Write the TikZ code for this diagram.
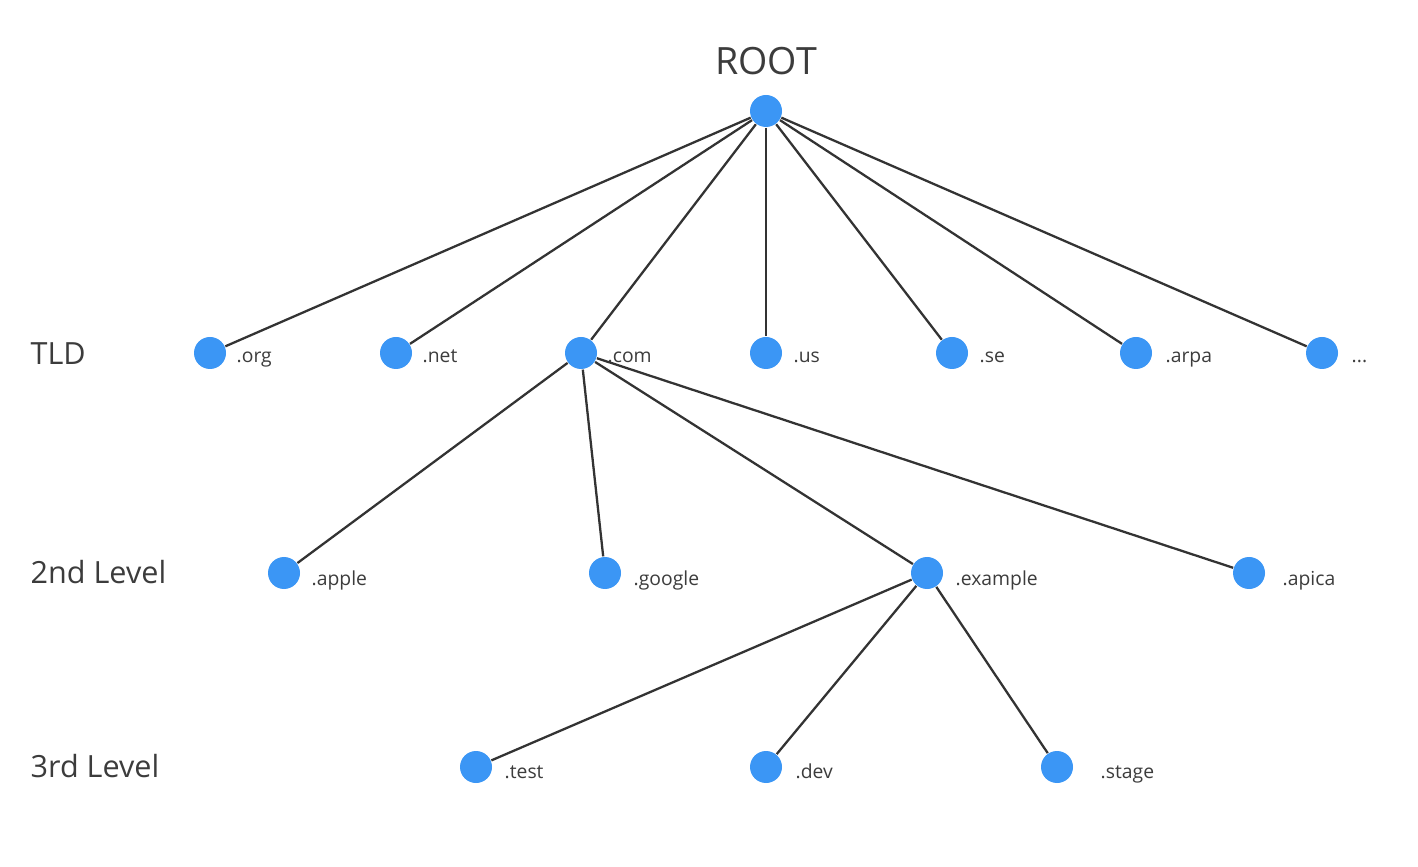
\documentclass[tikz,border=0pt]{standalone}
\usepackage{fontspec}
\setmainfont{Open Sans}
\usepackage{tikz}
\definecolor{dotblue}{RGB}{59,150,245}
\definecolor{edgegray}{RGB}{51,51,51}
\definecolor{txtgray}{RGB}{60,60,60}
\tikzset{
  dot/.style={circle,fill=dotblue,minimum size=0.32cm,inner sep=0pt},
  lvl/.style={anchor=base west,inner sep=0pt,text=txtgray,font=\fontsize{8.7}{10}\selectfont},
  lbl/.style={anchor=base west,inner sep=0pt,text=txtgray,font=\fontsize{5.5}{7}\selectfont},
  edge/.style={draw=edgegray,line width=0.65pt}
}
\begin{document}
\begin{tikzpicture}
\useasboundingbox (0,0) rectangle (14.18,8.66);
% root
\node[anchor=base,inner sep=0pt,text=txtgray,font=\fontsize{10.7}{12}\selectfont] (roottxt) at (7.66,7.91) {ROOT};
\node[dot] (root) at (7.66,7.55) {};
% level names
\node[lvl] (tldtxt) at (0.30,5.01) {TLD};
\node[lvl] (sndtxt) at (0.30,2.82) {2nd Level};
\node[lvl] (trdtxt) at (0.30,0.89) {3rd Level};
% TLD
\node[dot] (org) at (2.10,5.13) {};
\node[dot] (net) at (3.96,5.13) {};
\node[dot] (com) at (5.81,5.13) {};
\node[dot] (us) at (7.66,5.13) {};
\node[dot] (se) at (9.52,5.13) {};
\node[dot] (arpa) at (11.36,5.13) {};
\node[dot] (more) at (13.22,5.13) {};
\node[lbl] (orgtxt) at (2.36,5.03) {.org};
\node[lbl] (nettxt) at (4.22,5.03) {.net};
\node[lbl] (comtxt) at (6.07,5.03) {.com};
\node[lbl] (ustxt) at (7.93,5.03) {.us};
\node[lbl] (setxt) at (9.79,5.03) {.se};
\node[lbl] (arpatxt) at (11.65,5.03) {.arpa};
\node[lbl] (moretxt) at (13.51,5.03) {...};
% 2nd level
\node[dot] (apple) at (2.84,2.93) {};
\node[dot] (google) at (6.05,2.93) {};
\node[dot] (example) at (9.27,2.93) {};
\node[dot] (apica) at (12.49,2.93) {};
\node[lbl] (appletxt) at (3.11,2.81) {.apple};
\node[lbl] (googletxt) at (6.33,2.81) {.google};
\node[lbl] (exampletxt) at (9.55,2.81) {.example};
\node[lbl] (apicatxt) at (12.82,2.81) {.apica};
% 3rd level
\node[dot] (test) at (4.76,0.99) {};
\node[dot] (dev) at (7.66,0.99) {};
\node[dot] (stage) at (10.57,0.99) {};
\node[lbl] (testtxt) at (5.04,0.88) {.test};
\node[lbl] (devtxt) at (7.95,0.88) {.dev};
\node[lbl] (stagetxt) at (11.00,0.88) {.stage};
% edges
\draw[edge] (root) -- (org);
\draw[edge] (root) -- (net);
\draw[edge] (root) -- (com);
\draw[edge] (root) -- (us);
\draw[edge] (root) -- (se);
\draw[edge] (root) -- (arpa);
\draw[edge] (root) -- (more);
\draw[edge] (com) -- (apple);
\draw[edge] (com) -- (google);
\draw[edge] (com) -- (example);
\draw[edge] (com) -- (apica);
\draw[edge] (example) -- (test);
\draw[edge] (example) -- (dev);
\draw[edge] (example) -- (stage);
\end{tikzpicture}
\end{document}
